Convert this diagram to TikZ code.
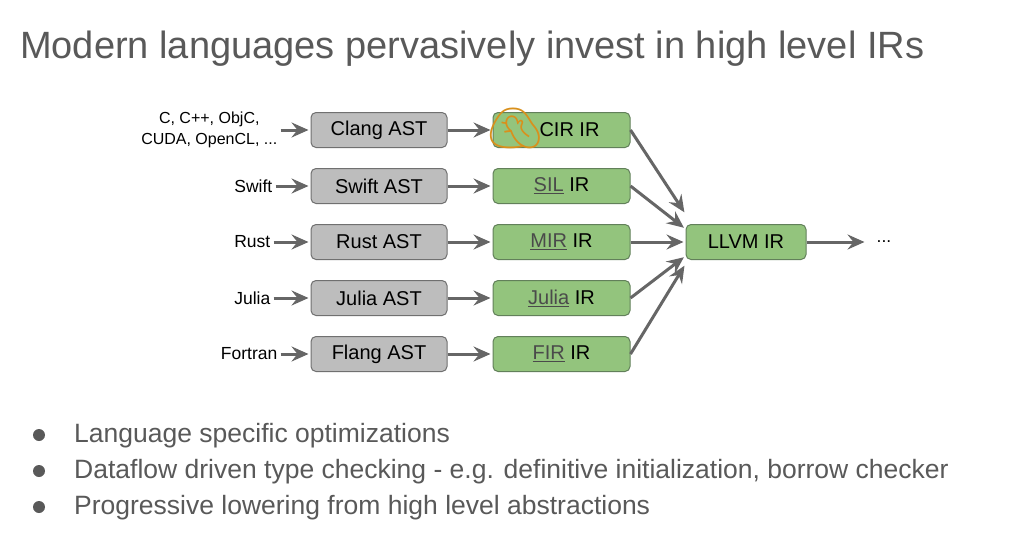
\documentclass[tikz,border=0pt]{standalone}
\usepackage{fontspec}
\setmainfont{Liberation Sans}
\newfontfamily\emojifont{Noto Emoji}
\usetikzlibrary{positioning}
\usetikzlibrary{arrows.meta}
\usetikzlibrary{calc}
\definecolor{slidegrey}{HTML}{595959}
\definecolor{astfill}{HTML}{BDBDBD}
\definecolor{astline}{HTML}{707070}
\definecolor{irfill}{HTML}{93C47D}
\definecolor{irline}{HTML}{62805A}
\definecolor{flowgrey}{HTML}{666666}
\definecolor{linkgrey}{HTML}{4A4A4A}
\definecolor{emojicol}{HTML}{D9901C}
\newcommand{\irlink}[1]{\textcolor{linkgrey}{\underline{#1}}}

\begin{document}
\begin{tikzpicture}[x=1pt,y=-1pt]
\tikzset{ast/.style={rectangle,minimum width=136pt,minimum height=35pt, rounded corners=5pt, draw=astline, fill=astfill, line width=1pt, font=\fontsize{20}{24}\selectfont}}
\tikzset{ir/.style={rectangle,minimum width=137pt,minimum height=35pt, rounded corners=5pt, draw=irline, fill=irfill, line width=1pt, font=\fontsize{20}{24}\selectfont}}
\tikzset{lang/.style={font=\fontsize{17.5}{21}\selectfont, inner sep=3pt}}
\tikzset{flow/.style={draw=flowgrey, line width=3pt, -{Stealth[length=17pt,width=15pt,inset=6pt]}, shorten >=2pt}}
\fill[white] (0,0) rectangle (1029,533);
\useasboundingbox (0,0) rectangle (1029,533);

% title
\node[anchor=base west, inner sep=0pt, text=slidegrey, font=\fontsize{38}{46}\selectfont] (title) at (20,58) {Modern languages pervasively invest in high level IRs};

% front ends
\node[ast] (clang) at (379,130) {Clang AST};
\node[ast, below=20pt of clang] (swiftast) {Swift AST};
\node[ast, below=20pt of swiftast] (rustast) {Rust AST};
\node[ast, below=20pt of rustast] (juliaast) {Julia AST};
\node[ast, below=20pt of juliaast] (flang) {Flang AST};

\node[lang, align=center, font=\fontsize{16}{21}\selectfont, left=30pt of clang] (cfam) {C, C++, ObjC,\\CUDA, OpenCL, ...};
\node[lang, left=35pt of swiftast] (swift) {Swift};
\node[lang, left=37pt of rustast] (rust) {Rust};
\node[lang, left=37pt of juliaast] (julia) {Julia};
\node[lang, left=30pt of flang] (fortran) {Fortran};

% high level IRs
\node[ir, right=45pt of clang] (cir) {\hspace*{16pt}CIR IR};
\node[ir, right=45pt of swiftast] (sil) {\irlink{SIL} IR};
\node[ir, right=45pt of rustast] (mir) {\irlink{MIR} IR};
\node[ir, right=45pt of juliaast] (juliair) {\irlink{Julia} IR};
\node[ir, right=45pt of flang] (fir) {\irlink{FIR} IR};

\node[ir, minimum width=120pt, right=55pt of mir] (llvm) {LLVM IR};
\node[lang, inner sep=10pt, right=60pt of llvm] (dots) {...};

\node[inner sep=0pt, text=emojicol, font=\emojifont\fontsize{47}{47}\selectfont] (facepalm) at (515,128) {🤦};

\foreach \a/\b/\c in {cfam/clang/cir, swift/swiftast/sil, rust/rustast/mir, julia/juliaast/juliair, fortran/flang/fir}
{
\draw[flow] (\a) -- (\b);
\draw[flow] (\b) -- (\c);
}
\foreach \c/\s in {cir/28, sil/13, mir/0, juliair/-14, fir/-22}
\draw[flow] (\c.east) -- ([yshift=\s pt]llvm.west);
\draw[flow] (llvm) -- (dots);

% bullets
\foreach \t [count=\i] in {{Language specific optimizations}, {Dataflow driven type checking - e.g. definitive initialization, borrow checker}, {Progressive lowering from high level abstractions}}
{
\node[circle, fill=slidegrey, minimum size=12pt, inner sep=0pt] (dot\i) at (39,{435+36*(\i-1)}) {};
\node[anchor=base west, inner sep=0pt, text=slidegrey, font=\fontsize{26.5}{32}\selectfont] (point\i) at (74,{442+36*(\i-1)}) {\t};
}
\end{tikzpicture}
\end{document}
